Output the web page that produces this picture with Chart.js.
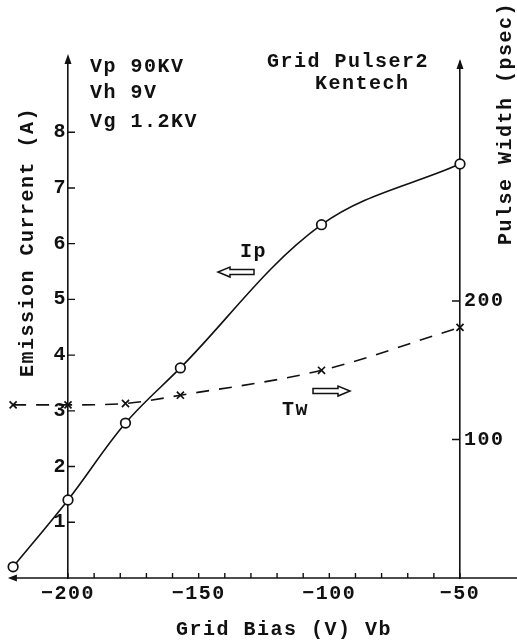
<!DOCTYPE html>
<html>
<head>
<meta charset="utf-8">
<script src="https://cdn.jsdelivr.net/npm/chart.js@4"></script>
<style>
  html, body { margin: 0; padding: 0; background: #fff; }
</style>
</head>
<body>
<canvas id="chart" width="517" height="641"></canvas>
<script>
// Grid bias sweep, Kentech grid pulser 2
const gridBias = [-221, -200, -178, -157, -103, -50];
const emissionCurrent = [0.2, 1.4, 2.78, 3.77, 6.34, 7.43];   // Ip (A)
const pulseWidth = [125, 125, 126, 132, 150, 181];            // Tw (psec)

const biasTicks = [-200, -190, -180, -170, -160, -150, -140, -130, -120, -110, -100, -90, -80, -70, -60, -50];
const biasLabels = [-200, -150, -100, -50];
const currentTicks = [1, 2, 3, 4, 5, 6, 7, 8];
const widthTicks = [100, 200];

const FONT = '"Liberation Mono", "DejaVu Sans Mono", monospace';
const INK = '#111';

// text drawn straight on the canvas: [text, left, baseline, rotated]
const notes = [
  ['Vp 90KV', 90, 72, false],
  ['Vh 9V', 90, 98, false],
  ['Vg 1.2KV', 90, 127, false],
  ['Grid Pulser2', 267, 67, false],
  ['Kentech', 315, 89, false],
  ['Ip', 240, 257, false],
  ['Tw', 282, 415, false],
  ['Grid Bias (V) Vb', 176, 635, false],
  ['Emission Current (A)', 33, 377, true],
  ['Pulse Width (psec)', 511, 245, true]
];

function hollowArrow(ctx, x0, x1, y, dir) {
  // dir -1 = points left, 1 = points right
  const head = 12, h = 5, s = 2.5;
  const tip = dir < 0 ? x0 : x1;
  const tail = dir < 0 ? x1 : x0;
  const neck = tip - dir * head;
  ctx.beginPath();
  ctx.moveTo(tail, y - s);
  ctx.lineTo(neck, y - s);
  ctx.lineTo(neck, y - h);
  ctx.lineTo(tip, y);
  ctx.lineTo(neck, y + h);
  ctx.lineTo(neck, y + s);
  ctx.lineTo(tail, y + s);
  ctx.closePath();
  ctx.stroke();
}

const decor = {
  id: 'decor',
  beforeDraw(chart) {
    chart.ctx.letterSpacing = '1.5px';
  },
  afterDatasetsDraw(chart) {
    // points that sit left of the -200 axis are skipped by the library, draw them here
    const whole = { left: 0, top: 0, right: chart.width, bottom: chart.height };
    chart.data.datasets.forEach((ds, i) => {
      chart.getDatasetMeta(i).data.forEach(pt => {
        if (pt.x < chart.chartArea.left - 2) pt.draw(chart.ctx, whole);
      });
    });
  },
  afterDraw(chart) {
    const { ctx, chartArea: a } = chart;
    const xs = chart.scales.x, ys = chart.scales.y, y1 = chart.scales.y1;
    const base = ys.getPixelForValue(0);
    ctx.save();
    ctx.strokeStyle = INK;
    ctx.fillStyle = INK;
    ctx.lineWidth = 1.6;

    // x axis, running past both vertical axes, arrow on the left
    const xl = xs.getPixelForValue(-223);
    ctx.beginPath();
    ctx.moveTo(xl + 6, base);
    ctx.lineTo(chart.width, base);
    ctx.stroke();
    ctx.beginPath();
    ctx.moveTo(xl, base);
    ctx.lineTo(xl + 9, base - 3.5);
    ctx.lineTo(xl + 9, base + 3.5);
    ctx.closePath();
    ctx.fill();

    // arrow heads on the vertical axes
    [[a.left, a.top - 8], [a.right, a.top - 3]].forEach(([x, tipY]) => {
      ctx.beginPath();
      ctx.moveTo(x, a.top);
      ctx.lineTo(x, tipY + 6);
      ctx.stroke();
      ctx.beginPath();
      ctx.moveTo(x, tipY);
      ctx.lineTo(x - 3.5, tipY + 10);
      ctx.lineTo(x + 3.5, tipY + 10);
      ctx.closePath();
      ctx.fill();
    });

    // inward tick marks
    ctx.lineWidth = 1.4;
    ctx.beginPath();
    biasTicks.forEach(v => {
      const px = xs.getPixelForValue(v);
      ctx.moveTo(px, base);
      ctx.lineTo(px, base - 5);
    });
    currentTicks.forEach(v => {
      const py = ys.getPixelForValue(v);
      ctx.moveTo(a.left, py);
      ctx.lineTo(a.left + 7, py);
    });
    widthTicks.forEach(v => {
      const py = y1.getPixelForValue(v);
      ctx.moveTo(a.right - 8, py);
      ctx.lineTo(a.right, py);
    });
    ctx.stroke();

    // Ip / Tw direction arrows
    ctx.lineWidth = 1.5;
    hollowArrow(ctx, 218, 254, 272, -1);
    hollowArrow(ctx, 313, 350, 391, 1);

    // labels
    ctx.font = 'bold 20px ' + FONT;
    ctx.textAlign = 'left';
    ctx.textBaseline = 'alphabetic';
    notes.forEach(([t, x, y, rot]) => {
      if (rot) {
        ctx.save();
        ctx.translate(x, y);
        ctx.rotate(-Math.PI / 2);
        ctx.fillText(t, 0, 0);
        ctx.restore();
      } else {
        ctx.fillText(t, x, y);
      }
    });
    ctx.restore();
  }
};

new Chart(document.getElementById('chart'), {
  type: 'line',
  data: {
    datasets: [
      {
        label: 'Ip',
        data: gridBias.map((x, i) => ({ x, y: emissionCurrent[i] })),
        yAxisID: 'y',
        borderColor: INK,
        borderWidth: 1.6,
        tension: 0.35,
        pointStyle: 'circle',
        pointRadius: 4.8,
        pointBorderWidth: 1.7,
        pointBorderColor: INK,
        pointBackgroundColor: '#fff',
        clip: false
      },
      {
        label: 'Tw',
        data: gridBias.map((x, i) => ({ x, y: pulseWidth[i] })),
        yAxisID: 'y1',
        borderColor: INK,
        borderWidth: 1.6,
        borderDash: [13, 10],
        cubicInterpolationMode: 'monotone',
        pointStyle: 'crossRot',
        pointRadius: 5,
        pointBorderWidth: 1.7,
        pointBorderColor: INK,
        clip: false
      }
    ]
  },
  options: {
    responsive: false,
    animation: false,
    layout: { padding: { left: 0, right: 0, top: 62, bottom: 0 } },
    plugins: { legend: { display: false }, tooltip: { enabled: false } },
    scales: {
      x: {
        type: 'linear',
        min: -200,
        max: -50,
        afterBuildTicks: s => { s.ticks = biasTicks.map(v => ({ value: v })); },
        afterFit: s => { s.height = 63; },
        grid: { display: false, drawTicks: false },
        border: { display: false },
        ticks: {
          autoSkip: false,
          maxRotation: 0,
          padding: 4,
          color: INK,
          font: { family: FONT, size: 20, weight: 'bold' },
          callback: v => biasLabels.includes(v) ? '\u2212' + Math.abs(v) : ''
        }
      },
      y: {
        position: 'left',
        min: 0,
        max: 9.26,
        afterBuildTicks: s => { s.ticks = currentTicks.map(v => ({ value: v })); },
        afterFit: s => { s.width = 68; },
        grid: { display: false, drawTicks: false },
        border: { display: true, color: INK, width: 1.6 },
        ticks: {
          padding: 1,
          color: INK,
          font: { family: FONT, size: 20, weight: 'bold' }
        }
      },
      y1: {
        position: 'right',
        min: 0,
        max: 372.6,
        afterBuildTicks: s => { s.ticks = widthTicks.map(v => ({ value: v })); },
        afterFit: s => { s.width = 57; },
        grid: { display: false, drawTicks: false },
        border: { display: true, color: INK, width: 1.6 },
        ticks: {
          padding: 4,
          color: INK,
          font: { family: FONT, size: 20, weight: 'bold' }
        }
      }
    }
  },
  plugins: [decor]
});
</script>
</body>
</html>
